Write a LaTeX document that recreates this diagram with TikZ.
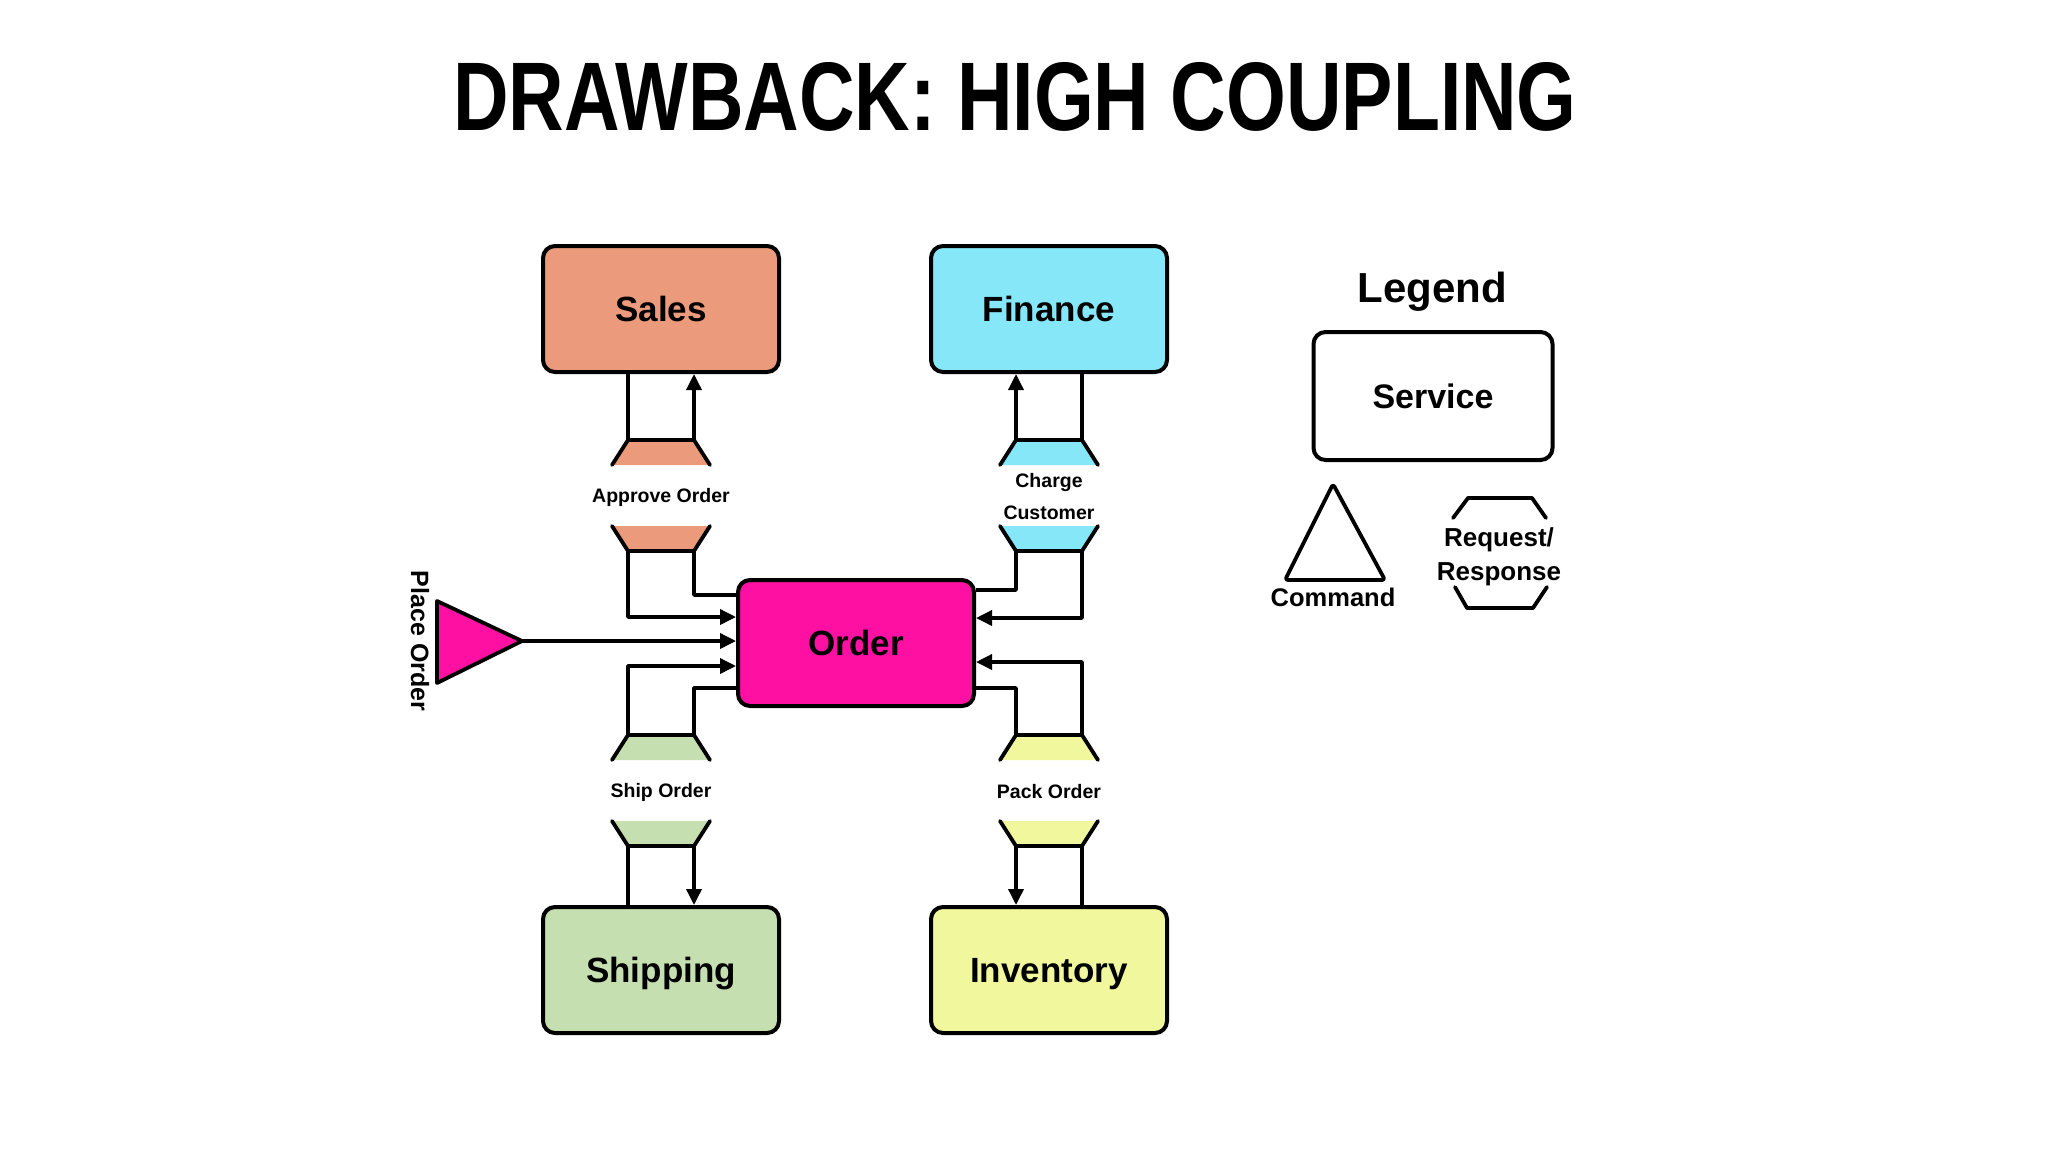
\documentclass[tikz,border=0pt]{standalone}
\usepackage{fontspec}
\usepackage{graphicx}
\setmainfont{Liberation Sans}
\usetikzlibrary{arrows.meta}
\definecolor{salesc}{HTML}{EC9A7C}
\definecolor{financec}{HTML}{86E7F9}
\definecolor{orderc}{HTML}{FE10A2}
\definecolor{shipc}{HTML}{C6DFB1}
\definecolor{invc}{HTML}{F1F79C}
\tikzset{
  svc/.style={draw=black, line width=4pt, rounded corners=12pt, minimum width=236pt, minimum height=126pt, inner sep=0pt, text depth=0pt, font=\bfseries\fontsize{35}{40}\selectfont},
  trap/.style={draw=black, line width=3.8pt, line join=round, line cap=round},
  conn/.style={draw=black, line width=3.5pt, line join=round},
  tip/.style={-{Triangle[length=16pt,width=15pt]}},
  small/.style={inner sep=0pt, align=center, font=\bfseries\fontsize{19.5}{32}\selectfont},
  lgd/.style={inner sep=0pt, align=center, font=\bfseries\fontsize{26}{34}\selectfont}
}
\newcommand\rrshape[5]{%
  \fill[#3] ({#1-33},#2) -- ({#1+33},#2) -- ({#1+49},{#2+25}) -- ({#1-49},{#2+25}) -- cycle;
  \draw[trap] ({#1-49},{#2+25}) -- ({#1-33},#2) -- ({#1+33},#2) -- ({#1+49},{#2+25});
  \fill[#3] ({#1-49},{#2+86}) -- ({#1+49},{#2+86}) -- ({#1+33},{#2+111}) -- ({#1-33},{#2+111}) -- cycle;
  \draw[trap] ({#1-49},{#2+86}) -- ({#1-33},{#2+111}) -- ({#1+33},{#2+111}) -- ({#1+49},{#2+86});
  \coordinate (#4TL) at ({#1-33},#2);
  \coordinate (#4TR) at ({#1+33},#2);
  \coordinate (#4BL) at ({#1-33},{#2+111});
  \coordinate (#4BR) at ({#1+33},{#2+111});
  \node[small] (#4lbl) at (#1,{#2+57}) {#5};
}
\begin{document}
\begin{tikzpicture}[x=1pt,y=-1pt]
\fill[white] (0,0) rectangle (2048,1152);
\useasboundingbox (0,0) rectangle (2048,1152);

% title
\node[inner sep=0pt] (title) at (1015,97) {\resizebox{1123pt}{68pt}{\bfseries DRAWBACK: HIGH COUPLING}};

% services
\node[svc, fill=salesc] (sales) at (661,309) {Sales};
\node[svc, fill=financec] (finance) at (1049,309) {Finance};
\node[svc, fill=orderc] (order) at (856,643) {Order};
\node[svc, fill=shipc] (shipping) at (661,970) {Shipping};
\node[svc, fill=invc] (inventory) at (1049,970) {Inventory};

% request/response shapes
\rrshape{661}{440}{salesc}{s}{Approve Order}
\rrshape{1049}{440}{financec}{f}{Charge\\Customer}
\rrshape{661}{735}{shipc}{h}{Ship Order}
\rrshape{1049}{735}{invc}{i}{Pack Order}

% Sales connectors
\draw[conn] (sales.south -| sTL) -- (sTL);
\draw[conn,tip] (sTR) -- (sales.south -| sTR);
\draw[conn,tip] (sBL) |- ([yshift=26pt]order.west);
\draw[conn] ([yshift=48pt]order.west) -| (sBR);

% Finance connectors
\draw[conn,tip] (fTL) -- (finance.south -| fTL);
\draw[conn] (finance.south -| fTR) -- (fTR);
\draw[conn] ([yshift=53pt]order.east) -| (fBL);
\draw[conn,tip] (fBR) |- ([yshift=25pt]order.east);

% Shipping connectors
\draw[conn] ([yshift=-45pt]order.west) -| (hTR);
\draw[conn,tip] (hTL) |- ([yshift=-23pt]order.west);
\draw[conn] (hBL) -- (shipping.north -| hBL);
\draw[conn,tip] (hBR) -- (shipping.north -| hBR);

% Inventory connectors
\draw[conn] ([yshift=-45pt]order.east) -| (iTL);
\draw[conn,tip] (iTR) |- ([yshift=-19pt]order.east);
\draw[conn,tip] (iBL) -- (inventory.north -| iBL);
\draw[conn] (iBR) -- (inventory.north -| iBR);

% Place Order command
\draw[trap, fill=orderc] (437,601) -- (522,641) -- (437,683) -- cycle;
\coordinate (cmdtip) at (522,641);
\node[inner sep=0pt, rotate=-90, font=\bfseries\fontsize{25}{30}\selectfont] (placeorder) at (420,641) {Place Order};
\draw[conn,tip] (cmdtip) -- ([yshift=2pt]order.west);

% Legend
\node[inner sep=0pt, text depth=0pt, font=\bfseries\fontsize{42}{48}\selectfont] (legend) at (1432,287) {Legend};
\node[svc, fill=white, minimum width=239pt, minimum height=128pt, font=\bfseries\fontsize{34}{40}\selectfont] (service) at (1433,396) {Service};
\draw[trap, rounded corners=3pt] (1333,484) -- (1385,580) -- (1285,580) -- cycle;
\node[inner sep=0pt, font=\bfseries\fontsize{25.5}{30}\selectfont] (command) at (1333,597) {Command};
\draw[trap] (1453,518) -- (1468,498) -- (1532,498) -- (1546,518);
\draw[trap] (1455,587) -- (1467,608) -- (1533,608) -- (1547,587);
\node[lgd] (reqresp) at (1499,557) {Request/\\Response};
\end{tikzpicture}
\end{document}
